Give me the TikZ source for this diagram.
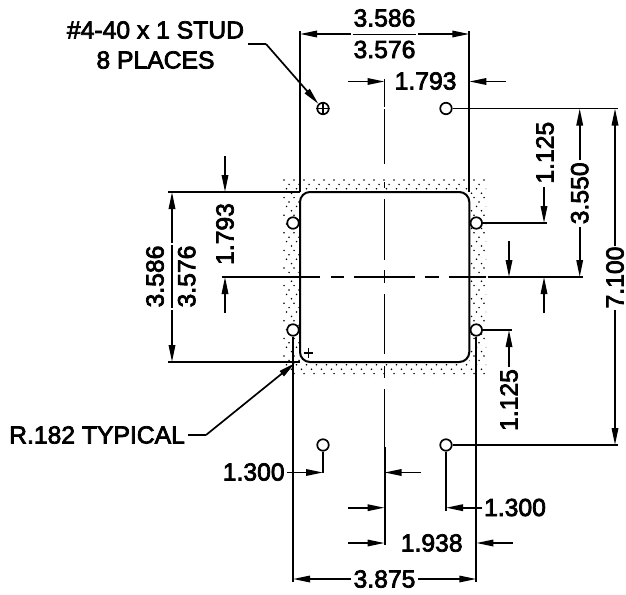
\documentclass[tikz,border=0pt]{standalone}
\usepackage{fontspec}
\usetikzlibrary{arrows.meta}
\newfontface\dimfont{Liberation Sans}[RawFeature={embolden=3}]
\tikzset{
dimtext/.style={inner sep=1pt,font=\dimfont\fontsize{24.7}{30}\selectfont,align=center},
dimline/.style={-{Triangle[length=17pt,width=6.5pt]},line width=1.7pt},
thinline/.style={line width=1.7pt},
holept/.style={circle,draw,fill=white,line width=1.7pt,inner sep=0pt,minimum size=11.5pt}
}
\begin{document}
\begin{tikzpicture}[x=1pt,y=-1pt]
\useasboundingbox (0,0) rectangle (626,594);

\begin{scope}[even odd rule]
\clip (283,178) rectangle (486,377) (300,192) rectangle (469.3,362);
\foreach \j in {0,...,45}{
\pgfmathsetmacro{\xoff}{{0,5,2.5,7.5}[int(mod(\j,4))]}
\foreach \i in {0,...,20}{
\fill ({284+\xoff+\i*10},{180+\j*4.4}) circle (0.85);
}}
\end{scope}

\coordinate(rectTL) at (300,192);
\coordinate(rectTR) at (469.3,192);
\coordinate(rectBL) at (300,362);
\coordinate(rectBR) at (469.3,362);
\coordinate(extTL) at (300,31);
\coordinate(extTR) at (469.3,31);
\coordinate(extL) at (168,192);
\coordinate(extB) at (168,362);
\coordinate(extHT) at (618,108.5);
\coordinate(extHB) at (618,445);
\coordinate(extHA) at (547,223);
\coordinate(extHC) at (511.7,330);
\coordinate(extVA) at (323,473);
\coordinate(extVB) at (446,510.5);
\coordinate(extVL) at (293,581.5);
\coordinate(extVR) at (476.3,581.5);

\draw[line width=2pt,rounded corners=10] (rectTL) rectangle (rectBR);
\draw[thinline](extTL)--(rectTL);
\draw[thinline](extTR)--(rectTR);
\draw[thinline](extL)--(rectTL);
\draw[thinline](extB)--(rectBL);

\foreach \ya/\yb in {79/107,109/164,182/188,199/260,270/283,294/354,366/378,389/447}{
\draw[thinline](384.5,\ya)--(384.5,\yb);
}
\draw[line width=2pt](384.5,447)--(384.5,545);
\foreach \xa/\xb in {222/320,331/344,354/415,425/439,449/486,487.5/583}{
\draw[thinline](\xa,277)--(\xb,277);
}

\node[holept](hTL) at (323,108.5){};
\node[holept](hTR) at (446,108.5){};
\node[holept](hAL) at (293,223){};
\node[holept](hAR) at (476.3,223){};
\node[holept](hCL) at (293,330){};
\node[holept](hCR) at (476.3,330){};
\node[holept](hBL) at (323,445){};
\node[holept](hBR) at (446,445){};
\draw[line width=1.2pt](hTL.west)--(hTL.east);
\draw[line width=1.2pt](hTL.north)--(hTL.south);
\draw[line width=1.4pt](303.7,353)--(313,353);
\draw[line width=1.4pt](308.3,348.3)--(308.3,357.7);

\draw[thinline](hTR.east)--(extHT);
\draw[thinline](hBR.east)--(extHB);
\draw[thinline](hAR.east)--(extHA);
\draw[thinline](hCR.east)--(extHC);
\draw[thinline](hBL.south)--(extVA);
\draw[thinline](hBR.south)--(extVB);
\draw[thinline](hCL.south)--(extVL);
\draw[line width=2pt](hCR.south)--(extVR);

\node[dimtext](topA) at (384.5,18){3.586};
\node[dimtext](topB) at (384.5,49.5){3.576};
\node[dimtext](topC) at (425.6,81){1.793};
\node[dimtext,rotate=90](leftA) at (155,276.5){3.586};
\node[dimtext,rotate=90](leftB) at (186.7,276.5){3.576};
\node[dimtext,rotate=90](leftC) at (225,234){1.793};
\node[dimtext,rotate=90](rightA) at (545,152.7){1.125};
\node[dimtext,rotate=90](rightB) at (579.7,193.3){3.550};
\node[dimtext,rotate=90](rightC) at (615,277.5){7.100};
\node[dimtext,rotate=90](rightD) at (509,400){1.125};
\node[dimtext](botA) at (253.7,472){1.300};
\node[dimtext](botB) at (515,507.5){1.300};
\node[dimtext](botC) at (431.7,543){1.938};
\node[dimtext](botD) at (384.5,579){3.875};
\node[dimtext](stud) at (155.5,45){\#4-40 x 1 STUD\\8 PLACES};
\node[dimtext,anchor=west](radius) at (8,435){R.182 TYPICAL};

\draw[thinline](352.7,34.5)--(416,34.5);
\draw[thinline](172,245)--(172,308);

\coordinate(studA) at (248,44);
\coordinate(studB) at (266,44);
\coordinate(radA) at (188,435);
\coordinate(radB) at (206,435);
\draw[thinline](studA)--(studB);
\draw[thinline](radA)--(radB);

\path
(studB) edge[dimline] (hTL.135)
(radB) edge[dimline] (295,363)
(351,34) edge[dimline] (300,34)
(418,34) edge[dimline] (469.3,34)
(348,81.5) edge[dimline] (384.5,81.5)
(505.7,81.5) edge[dimline] (469.3,81.5)
(172,243) edge[dimline] (172,192)
(172,310) edge[dimline] (172,362)
(225,156) edge[dimline] (225,192)
(225,313) edge[dimline] (225,277)
(544,187) edge[dimline] (544,223)
(579.7,160) edge[dimline] (579.7,108.5)
(579.7,227) edge[dimline] (579.7,277)
(615,246) edge[dimline] (615,108.5)
(615,310) edge[dimline] (615,445)
(509,241) edge[dimline] (509,277)
(544,313) edge[dimline] (544,277)
(509,367) edge[dimline] (509,330)
(287,472.5) edge[dimline] (323,472.5)
(421,472.5) edge[dimline] (384.5,472.5)
(482,507.7) edge[dimline] (446,507.7)
(348,507.7) edge[dimline] (384.5,507.7)
(348,543) edge[dimline] (384.5,543)
(513,543) edge[dimline] (476.3,543)
(351,579) edge[dimline] (293,579)
(418,579) edge[dimline] (476.3,579);
\end{tikzpicture}
\end{document}
